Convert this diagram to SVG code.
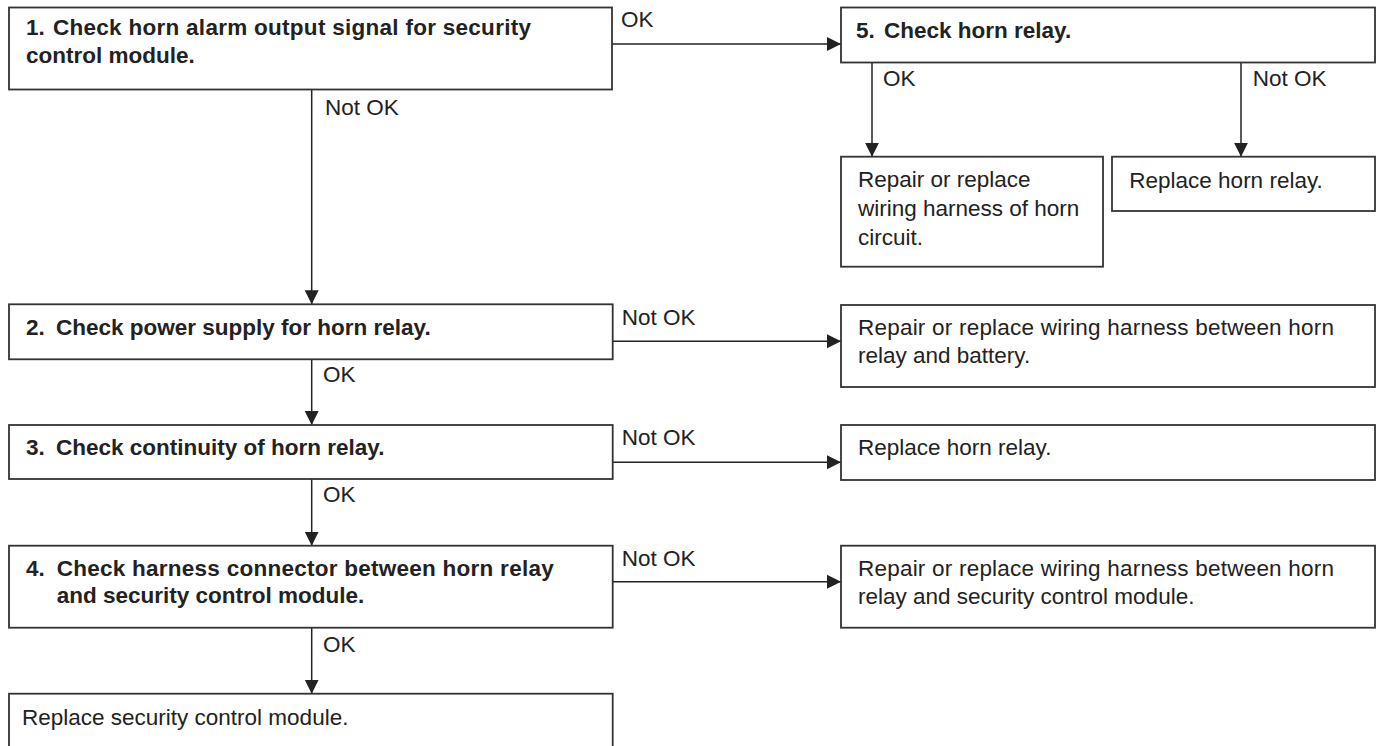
<svg xmlns="http://www.w3.org/2000/svg" width="1377" height="746" viewBox="0 0 1377 746">
<style>
.box{fill:#fff;stroke:#333;stroke-width:1.8}
.ln{fill:none;stroke:#222;stroke-width:1.5;marker-end:url(#ah)}
text{font-family:"Liberation Sans",Arial,Helvetica,sans-serif;font-size:22.5px;fill:#222}
.b{font-weight:bold}
</style>
<defs>
<marker id="ah" markerUnits="userSpaceOnUse" markerWidth="15" markerHeight="15" viewBox="0 0 15 15" refX="14" refY="7.5" orient="auto">
<path d="M0,0.5 L14,7.5 L0,14.5 z" fill="#222"/>
</marker>
</defs>
<rect width="1377" height="746" fill="#fff"/>
<g id="connectors">
<path class="ln" d="M612,44 H841"/>
<path class="ln" d="M311.7,89.5 V304.3"/>
<path class="ln" d="M872,62.5 V156.7"/>
<path class="ln" d="M1241,62.5 V156.7"/>
<path class="ln" d="M612.7,341.3 H841"/>
<path class="ln" d="M311.7,359.3 V425"/>
<path class="ln" d="M612.7,462.3 H841"/>
<path class="ln" d="M311.7,479 V545.7"/>
<path class="ln" d="M612.7,581.7 H841"/>
<path class="ln" d="M311.7,627.7 V693.7"/>
<text x="621" y="27">OK</text>
<text x="325" y="115">Not OK</text>
<text x="883" y="86">OK</text>
<text x="1252.7" y="86">Not OK</text>
<text x="621.7" y="325">Not OK</text>
<text x="323" y="381.7">OK</text>
<text x="621.7" y="445">Not OK</text>
<text x="323" y="501.7">OK</text>
<text x="621.7" y="566">Not OK</text>
<text x="323" y="652">OK</text>
</g>
<g id="n1">
<rect class="box" x="9" y="7.5" width="603" height="82"/>
<text class="b" y="35"><tspan x="26">1.</tspan><tspan x="53" textLength="478" lengthAdjust="spacing">Check horn alarm output signal for security</tspan><tspan x="26" y="63.3">control module.</tspan></text>
</g>
<g id="n5">
<rect class="box" x="841" y="7.5" width="534" height="55"/>
<text class="b" y="38"><tspan x="856">5.</tspan><tspan x="884">Check horn relay.</tspan></text>
</g>
<g id="n5ok">
<rect class="box" x="841" y="156.7" width="262" height="110"/>
<text y="187.3"><tspan x="858">Repair or replace</tspan><tspan x="858" y="216.3">wiring harness of horn</tspan><tspan x="858" y="245">circuit.</tspan></text>
</g>
<g id="n5ng">
<rect class="box" x="1112" y="156.7" width="263" height="54.3"/>
<text x="1129.3" y="187.7">Replace horn relay.</text>
</g>
<g id="n2">
<rect class="box" x="9" y="304.3" width="603.7" height="55"/>
<text class="b" y="335"><tspan x="26">2.</tspan><tspan x="56">Check power supply for horn relay.</tspan></text>
</g>
<g id="n2ng">
<rect class="box" x="841" y="305" width="534" height="82"/>
<text y="335"><tspan x="858" textLength="476" lengthAdjust="spacing">Repair or replace wiring harness between horn</tspan><tspan x="858" y="363.3">relay and battery.</tspan></text>
</g>
<g id="n3">
<rect class="box" x="9" y="425" width="603.7" height="54"/>
<text class="b" y="455"><tspan x="26">3.</tspan><tspan x="56">Check continuity of horn relay.</tspan></text>
</g>
<g id="n3ng">
<rect class="box" x="841" y="425" width="534" height="55"/>
<text x="858" y="455">Replace horn relay.</text>
</g>
<g id="n4">
<rect class="box" x="9" y="545.7" width="603.7" height="82"/>
<text class="b" y="575.7"><tspan x="26">4.</tspan><tspan x="56.7" textLength="497" lengthAdjust="spacing">Check harness connector between horn relay</tspan><tspan x="56.7" y="603.3">and security control module.</tspan></text>
</g>
<g id="n4ng">
<rect class="box" x="841" y="545.7" width="534" height="82"/>
<text y="576"><tspan x="858" textLength="476" lengthAdjust="spacing">Repair or replace wiring harness between horn</tspan><tspan x="858" y="604.3">relay and security control module.</tspan></text>
</g>
<g id="n4ok">
<rect class="box" x="9" y="693.7" width="603.7" height="70"/>
<text x="22" y="725">Replace security control module.</text>
</g>
</svg>
